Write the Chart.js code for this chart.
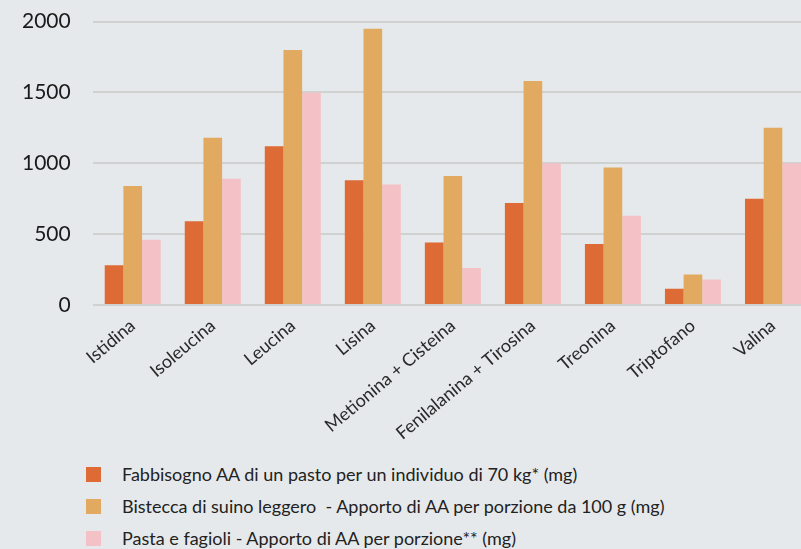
<!DOCTYPE html>
<html>
<head>
<meta charset="utf-8">
<script src="https://cdn.jsdelivr.net/npm/chart.js@4"></script>
<style>
  html, body { margin: 0; padding: 0; background: #e6e9eb; overflow: hidden; }
  body { width: 801px; height: 549px; position: relative; }
  #wrap { position: absolute; left: 0; top: -13px; width: 813px; height: 467px; }
  #legend { position: absolute; left: 86px; top: 459px; font-family: Lato, sans-serif; font-size: 18px; color: #222; }
  #legend div { position: relative; height: 32px; line-height: 30px; padding-left: 36px; white-space: pre; }
  #legend span { position: absolute; left: 0; top: 8px; width: 15px; height: 15px; }
</style>
</head>
<body>
<div id="wrap"><canvas id="myChart"></canvas></div>
<div id="legend"></div>
<script>
// amino acids
let categories = ['Istidina', 'Isoleucina', 'Leucina', 'Lisina', 'Metionina + Cisteina',
    'Fenilalanina + Tirosina', 'Treonina', 'Triptofano', 'Valina'];

let seriesNames = [
    'Fabbisogno AA di un pasto per un individuo di 70 kg* (mg)',
    'Bistecca di suino leggero  - Apporto di AA per porzione da 100 g (mg)',
    'Pasta e fagioli - Apporto di AA per porzione** (mg)'
];

let fabbisogno = [280, 590, 1120, 880, 440, 720, 430, 115, 750];
let bistecca = [840, 1180, 1800, 1950, 910, 1580, 970, 215, 1250];
let pastaFagioli = [460, 890, 1500, 850, 260, 1000, 630, 180, 1000];

let yTicks = [0, 500, 1000, 1500, 2000];

let colors = ['#de6a35', '#e2a961', '#f4c2c6'];

let seriesValues = [fabbisogno, bistecca, pastaFagioli];

let ctx = document.getElementById('myChart').getContext('2d');
let chart = new Chart(ctx, {
    type: 'bar',
    data: {
        labels: categories,
        datasets: seriesValues.map((vals, i) => ({
            label: seriesNames[i],
            data: vals,
            backgroundColor: colors[i],
            borderWidth: 0,
            categoryPercentage: 0.7,
            barPercentage: 1.0
        }))
    },
    options: {
        responsive: true,
        maintainAspectRatio: false,
        animation: false,
        layout: { padding: { top: 0, right: 0, left: 0, bottom: 0 } },
        plugins: {
            legend: { display: false },
            tooltip: { enabled: false }
        },
        scales: {
            x: {
                grid: { display: false, drawTicks: false },
                border: { display: false },
                ticks: {
                    maxRotation: 40,
                    minRotation: 40,
                    padding: 10,
                    color: '#2a2a2a',
                    font: { family: 'Lato', size: 18 }
                }
            },
            y: {
                min: 0,
                max: 2000,
                afterBuildTicks: axis => { axis.ticks = yTicks.map(v => ({ value: v })); },
                grid: { color: '#d0d2d2', lineWidth: 2, drawTicks: false },
                border: { display: false },
                ticks: {
                    padding: 22,
                    color: '#1a1a1a',
                    font: { family: 'Lato', size: 21 },
                    callback: v => String(v)
                }
            }
        }
    }
});

// html legend
let legendEl = document.getElementById('legend');
seriesNames.forEach((name, i) => {
    let row = document.createElement('div');
    let box = document.createElement('span');
    box.style.background = colors[i];
    row.appendChild(box);
    row.appendChild(document.createTextNode(name));
    legendEl.appendChild(row);
});
</script>
</body>
</html>
